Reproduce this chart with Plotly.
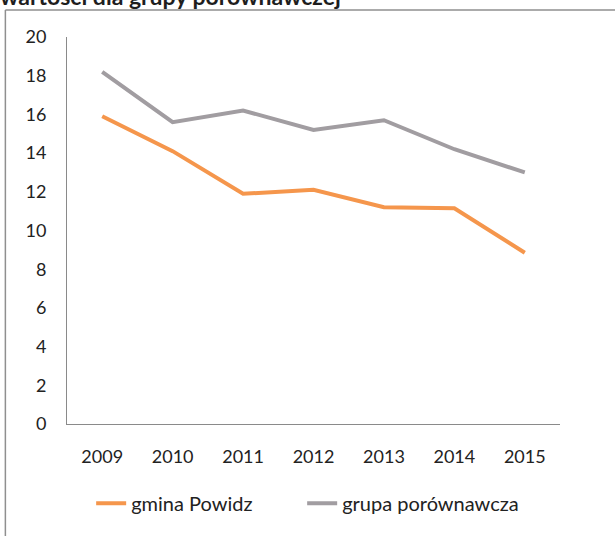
import plotly.graph_objects as go

years = ['2009', '2010', '2011', '2012', '2013', '2014', '2015']
gmina_powidz = [15.9, 14.1, 11.9, 12.1, 11.2, 11.15, 8.85]
grupa_porownawcza = [18.2, 15.6, 16.2, 15.2, 15.7, 14.2, 13.0]
y_ticks = [0, 2, 4, 6, 8, 10, 12, 14, 16, 18, 20]

font_family = 'Lato, Open Sans, sans-serif'

fig = go.Figure()

fig.add_trace(go.Scatter(
    x=years, y=gmina_powidz,
    mode='lines',
    line=dict(color='#F5964C', width=4),
    name='gmina Powidz',
    legend='legend'
))

fig.add_trace(go.Scatter(
    x=years, y=grupa_porownawcza,
    mode='lines',
    line=dict(color='#A19DA1', width=4),
    name='grupa porównawcza',
    legend='legend2'
))

# frame around the chart (scanned page): left and top edges
fig.add_shape(type='line', xref='paper', yref='paper',
              x0=-0.125, x1=-0.125, y0=-0.4, y1=1.07,
              line=dict(color='#8f8f8f', width=1.5))
fig.add_shape(type='line', xref='paper', yref='paper',
              x0=-0.125, x1=1.2, y0=1.07, y1=1.07,
              line=dict(color='#8f8f8f', width=1.5))

# cut-off heading at the top of the scan
fig.add_annotation(
    text='<b>wartości dla grupy porównawczej</b>',
    xref='paper', yref='paper', x=-0.14, y=1.064,
    xanchor='left', yanchor='bottom', showarrow=False,
    font=dict(family=font_family, size=23, color='#1e1e1e')
)

leg = dict(
    orientation='h',
    xanchor='left',
    y=-0.205, yanchor='middle',
    font=dict(size=20),
    bgcolor='rgba(0,0,0,0)'
)

fig.update_layout(
    width=615, height=536,
    margin=dict(l=67, r=55, t=37, b=112),
    paper_bgcolor='white',
    plot_bgcolor='white',
    font=dict(family=font_family, size=18, color='#222222'),
    showlegend=True,
    xaxis=dict(
        type='category',
        range=[-0.5, 6.5],
        showgrid=False,
        showline=True, linecolor='#8a8a8a', linewidth=1,
        ticks='', ticklabelstandoff=16,
        tickfont=dict(size=18),
    ),
    yaxis=dict(
        range=[0, 20],
        tickvals=y_ticks,
        showgrid=False,
        zeroline=False,
        showline=True, linecolor='#8a8a8a', linewidth=1,
        ticks='', ticklabelstandoff=16,
        tickfont=dict(size=18),
    ),
    legend=dict(leg, x=0.049),
    legend2=dict(leg, x=0.477),
)

# drop the default page margin so the figure sits at the window corner
fig.write_html('out.html', config={'displayModeBar': False},
               post_script="document.body.style.margin='0';")
